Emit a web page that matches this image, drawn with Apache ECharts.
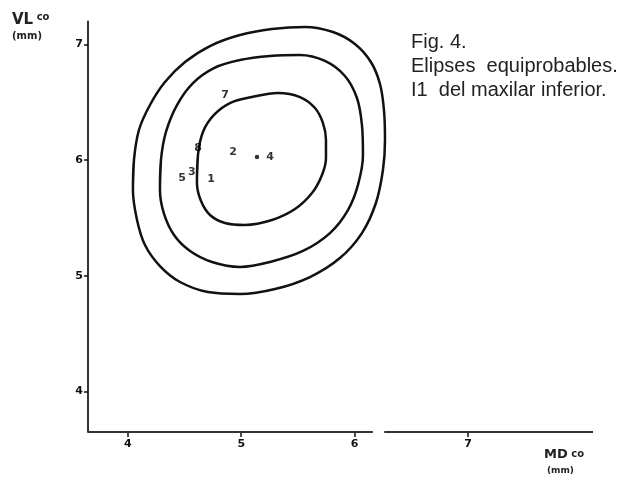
<!DOCTYPE html>
<html>
<head>
<meta charset="utf-8">
<script src="https://cdn.jsdelivr.net/npm/echarts@6/dist/echarts.min.js"></script>
<style>html,body{margin:0;padding:0;background:#fff;}#c{width:629px;height:480px;}</style>
</head>
<body>
<div id="c"></div>
<script>
// Axis ticks
const xTicks = [4, 5, 6, 7];
const yTicks = [4, 5, 6, 7];
// x axis drawn in two pieces (gap between 6 and 7 in the original)
const xAxisPart1 = [[3.65, 3.65], [6.16, 3.65]];
const xAxisPart2 = [[6.26, 3.65], [8.1, 3.65]];

// Equiprobable contours, [MD, VL]
const outerEllipse = [
  [4.046,5.742],[4.055,6.002],[4.099,6.261],[4.196,6.477],[4.328,6.676],[4.505,6.849],[4.725,6.987],
  [4.989,7.082],[5.271,7.134],[5.562,7.152],[5.809,7.108],[6.002,7.005],[6.143,6.849],[6.223,6.659],
  [6.258,6.434],[6.267,6.175],[6.249,5.915],[6.187,5.630],[6.064,5.370],[5.870,5.154],[5.606,4.990],
  [5.298,4.886],[4.989,4.843],[4.707,4.860],[4.461,4.947],[4.284,5.085],[4.152,5.267],[4.082,5.483],
  [4.046,5.742],[4.055,6.002]
];
const middleEllipse = [
  [4.284,5.742],[4.293,6.002],[4.337,6.244],[4.434,6.477],[4.575,6.667],[4.760,6.797],[4.989,6.866],
  [5.254,6.901],[5.518,6.910],[5.738,6.858],[5.914,6.728],[6.020,6.538],[6.064,6.304],[6.073,6.045],
  [6.029,5.786],[5.941,5.569],[5.782,5.370],[5.544,5.215],[5.254,5.120],[4.989,5.077],[4.743,5.120],
  [4.549,5.215],[4.408,5.353],[4.320,5.535],[4.284,5.742],[4.293,6.002]
];
const innerEllipse = [
  [4.610,5.803],[4.619,6.045],[4.663,6.244],[4.760,6.391],[4.901,6.494],[5.095,6.546],[5.324,6.581],
  [5.518,6.546],[5.650,6.451],[5.720,6.322],[5.747,6.175],[5.747,6.019],[5.712,5.872],[5.624,5.716],
  [5.474,5.578],[5.271,5.483],[5.033,5.440],[4.857,5.457],[4.725,5.526],[4.646,5.647],[4.610,5.803],
  [4.619,6.045]
];

// Numbered points
const pointNames = ['8', '2', '4', '3', '5', '1', '7'];
const pointMD    = [4.619, 4.928, 5.254, 4.566, 4.478, 4.734, 4.857];
const pointVL    = [6.105, 6.071, 6.028, 5.898, 5.846, 5.837, 6.564];
// Centre dot
const centreDot = [[5.139, 6.028]];

const chart = echarts.init(document.getElementById('c'));
const ink = '#111';
const contourStyle = { color: ink, width: 2.5 };

function contour(data) {
  return { type: 'line', data: data, smooth: 0.35, symbol: 'none', lineStyle: contourStyle, silent: true, z: 3 };
}

chart.setOption({
  animation: false,
  backgroundColor: '#fff',
  grid: { left: 88, right: 36, top: 21.4, bottom: 48, containLabel: false },
  xAxis: {
    type: 'value', min: 3.65, max: 8.1,
    splitLine: { show: false },
    axisLine: { show: false },
    axisTick: { show: true, customValues: xTicks, length: 5, inside: false, lineStyle: { color: ink, width: 1.5 } },
    axisLabel: { customValues: xTicks, color: ink, fontSize: 11, fontWeight: 'bold', fontFamily: 'DejaVu Sans', margin: 7 }
  },
  yAxis: {
    type: 'value', min: 3.65, max: 7.2,
    splitLine: { show: false },
    axisLine: { show: true, lineStyle: { color: '#333', width: 2 } },
    axisTick: { show: true, customValues: yTicks, length: 4, lineStyle: { color: ink, width: 1.5 } },
    axisLabel: { customValues: yTicks, color: ink, fontSize: 11, fontWeight: 'bold', fontFamily: 'DejaVu Sans', margin: 5 }
  },
  series: [
    { type: 'line', data: xAxisPart1, symbol: 'none', lineStyle: { color: '#333', width: 2 }, silent: true, z: 2 },
    { type: 'line', data: xAxisPart2, symbol: 'none', lineStyle: { color: '#333', width: 2 }, silent: true, z: 2 },
    contour(outerEllipse),
    contour(middleEllipse),
    contour(innerEllipse),
    {
      type: 'scatter', symbolSize: 0, z: 5,
      data: pointNames.map((n, i) => ({ name: n, value: [pointMD[i], pointVL[i]] })),
      label: { show: true, position: 'inside', formatter: p => p.name, color: '#000', fontSize: 11, fontWeight: 'bold', fontFamily: 'DejaVu Sans' }
    },
    { type: 'scatter', data: centreDot, symbol: 'circle', symbolSize: 4.5, itemStyle: { color: '#000' }, z: 5 }
  ],
  graphic: [
    { type: 'text', left: 12, top: 12, style: { text: '{a|VL}{b| co}', rich: {
      a: { fontSize: 15, fontWeight: 'bold', fontFamily: 'DejaVu Sans', fill: '#222' },
      b: { fontSize: 10, fontWeight: 'bold', fontFamily: 'DejaVu Sans', fill: '#222', verticalAlign: 'top', padding: [0,0,6,0] } } } },
    { type: 'text', left: 12, top: 31, style: { text: '(mm)', fontSize: 10, fontWeight: 'bold', fontFamily: 'DejaVu Sans', fill: '#222' } },
    { type: 'text', left: 544, top: 448, style: { text: '{a|MD}{b| co}', rich: {
      a: { fontSize: 13, fontWeight: 'bold', fontFamily: 'DejaVu Sans', fill: '#222' },
      b: { fontSize: 10, fontWeight: 'bold', fontFamily: 'DejaVu Sans', fill: '#222' } } } },
    { type: 'text', left: 547, top: 466, style: { text: '(mm)', fontSize: 9, fontWeight: 'bold', fontFamily: 'DejaVu Sans', fill: '#222' } },
    { type: 'text', left: 411, top: 30, style: { text: 'Fig. 4.\nElipses  equiprobables.\nI1  del maxilar inferior.', fontSize: 20, lineHeight: 24, fontFamily: 'Liberation Sans', fill: '#222' } }
  ]
});
</script>
</body>
</html>
